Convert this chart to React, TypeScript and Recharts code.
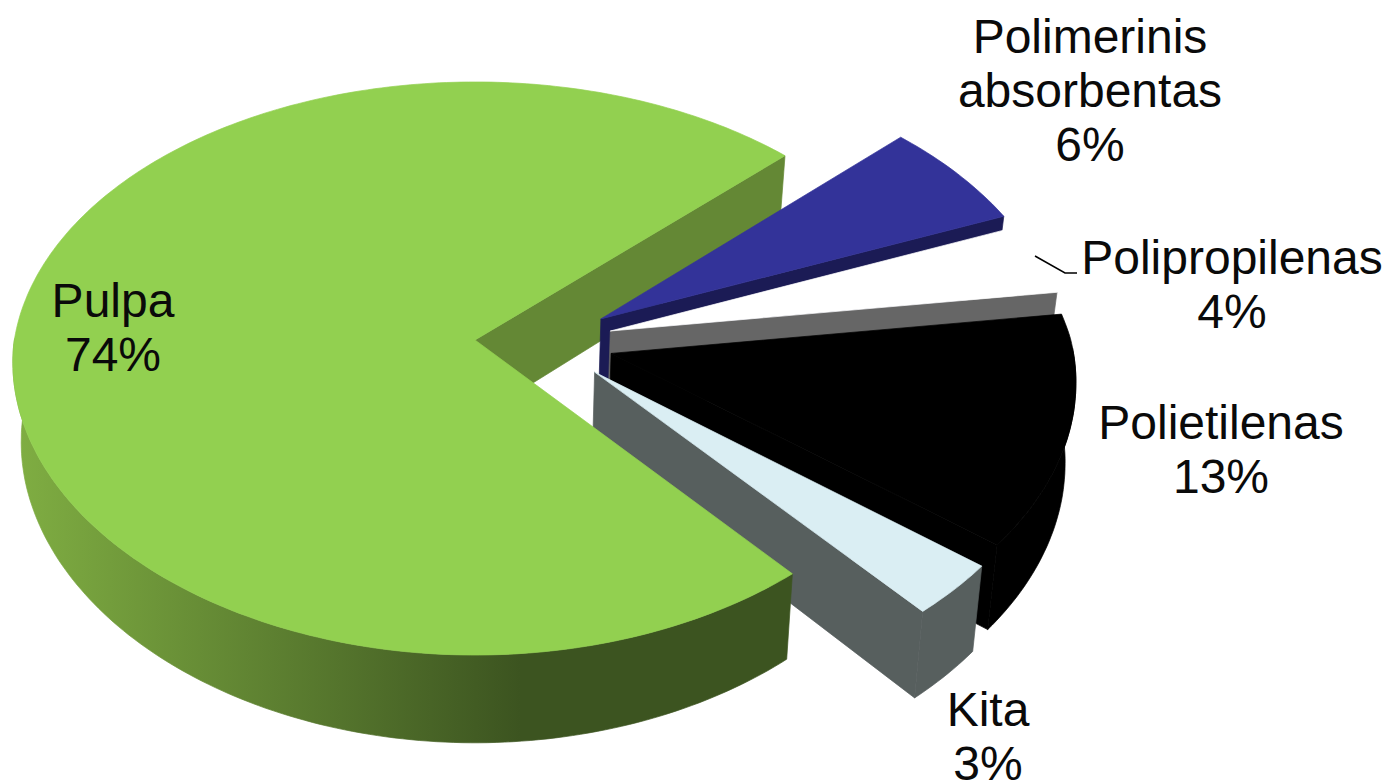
import { Pie, PieChart } from "recharts";

const LABELS = ["Polimerinis absorbentas", "Polipropilenas", "Polietilenas", "Kita", "Pulpa"];
const VALUES = [6, 4, 13, 3, 74];
const TOP_COLORS = ["#333399", "#FFFFFF", "#000000", "#DAEEF3", "#92D050"];
const EDGE_COLORS = ["#1B1B55", "#666666", "#000000", "#575F5E", "#648835"];
const RIM_COLORS = ["#1B1B55", "#FFFFFF", "#000000", "#575F5E", "url(#pulpaRim)"];

const LABEL_LINES = [
  ["Polimerinis", "absorbentas", "6%"],
  ["Polipropilenas", "4%"],
  ["Polietilenas", "13%"],
  ["Kita", "3%"],
  ["Pulpa", "74%"],
];
const LABEL_ANCHORS = [
  { x: 1090, y: 53 },
  { x: 1232, y: 274 },
  { x: 1221, y: 439 },
  { x: 988, y: 726 },
  { x: 113, y: 317 },
];

const WIDTH = 1390;
const HEIGHT = 784;
const CX = 475;
const CY = 340;
const RADIUS = 460.7;
const TILT = 0.6158; // vertical squash of the pie plane
const PERSPECTIVE = 0.0995;
const PERSPECTIVE_X_FRONT = 0.078; // the near half widens a bit less than it drops
const DEPTH = 79; // wall height
const BOTTOM_SCALE = 0.982;
const EXPLODE = 0.15;
const PULPA_MID = 177.2;
const PULPA_INDEX = 4;

const FONT = "'Liberation Sans', Arial, sans-serif";

const rad = (d: number) => (d * Math.PI) / 180;

// plane coords (unit circle) to screen, top or bottom face of the slab
function project(u: number, v: number, bottom = false) {
  const s = 1 / (1 + PERSPECTIVE * v);
  const sx = v < 0 ? 1 / (1 + PERSPECTIVE_X_FRONT * v) : s;
  const x = CX + RADIUS * u * sx;
  const y = CY - RADIUS * TILT * v * s;
  if (!bottom) return [x, y];
  return [CX + (x - CX) * BOTTOM_SCALE, y + DEPTH * s];
}

const toPath = (pts: number[][]) =>
  "M" + pts.map((p) => `${p[0].toFixed(1)},${p[1].toFixed(1)}`).join("L") + "Z";

function Face({ pts, fill }: { pts: number[][]; fill: string }) {
  return <path d={toPath(pts)} fill={fill} stroke={fill} strokeWidth={0.7} />;
}

function sliceGeometry(props: any) {
  const { startAngle, endAngle, midAngle } = props;

  // every slice moves out from the middle of the pie; Pulpa's apex sits at CX,CY
  const ou = EXPLODE * (Math.cos(rad(midAngle)) - Math.cos(rad(PULPA_MID)));
  const ov = EXPLODE * (Math.sin(rad(midAngle)) - Math.sin(rad(PULPA_MID)));

  const angles: number[] = [];
  const steps = Math.ceil(Math.abs(endAngle - startAngle));
  for (let i = 0; i <= steps; i++) {
    angles.push(rad(startAngle + ((endAngle - startAngle) * i) / steps));
  }
  const at = (a: number, bottom = false) => project(ou + Math.cos(a), ov + Math.sin(a), bottom);

  return {
    top: angles.map((a) => at(a)),
    // outer wall only where it faces the viewer
    rimTop: angles.filter((a) => Math.sin(a) <= 0.02).map((a) => at(a)),
    rimLow: angles.filter((a) => Math.sin(a) <= 0.02).map((a) => at(a, true)),
    apexTop: project(ou, ov),
    apexLow: project(ou, ov, true),
    startLow: at(angles[0], true),
    endLow: at(angles[steps], true),
    // slices run clockwise, so only these cut faces turn towards the viewer
    startVisible: Math.cos(rad(startAngle)) < 0,
    endVisible: Math.cos(rad(endAngle)) > 0,
  };
}

function CutFaces({ props }: { props: any }) {
  const g = sliceGeometry(props);
  const fill = EDGE_COLORS[props.index];
  return (
    <g>
      {g.startVisible && <Face pts={[g.apexTop, g.top[0], g.startLow, g.apexLow]} fill={fill} />}
      {g.endVisible && (
        <Face pts={[g.apexTop, g.top[g.top.length - 1], g.endLow, g.apexLow]} fill={fill} />
      )}
    </g>
  );
}

// Pulpa's notch wall sits behind all the other slices, its top face in front of them
function BackWall(props: any) {
  return props.index === PULPA_INDEX ? <CutFaces props={props} /> : <g />;
}

function Slice3D(props: any) {
  const { index } = props;
  const g = sliceGeometry(props);
  return (
    <g>
      {g.rimTop.length > 1 && (
        <Face pts={[...g.rimTop, ...[...g.rimLow].reverse()]} fill={RIM_COLORS[index]} />
      )}
      {index !== PULPA_INDEX && <CutFaces props={props} />}
      <Face pts={[g.apexTop, ...g.top]} fill={TOP_COLORS[index]} />
    </g>
  );
}

function SliceLabel(props: any) {
  const { index } = props;
  const anchor = LABEL_ANCHORS[index];
  return (
    <g>
      {index === 1 && (
        <polyline
          points="1035,256 1065,273 1077,273"
          fill="none"
          stroke="#000000"
          strokeWidth={1.5}
        />
      )}
      <text
        x={anchor.x}
        y={anchor.y}
        textAnchor="middle"
        fontFamily={FONT}
        fontSize={48}
        fill="#0a0a0a"
      >
        {LABEL_LINES[index].map((line, i) => (
          <tspan key={line} x={anchor.x} dy={i === 0 ? 0 : 54}>
            {line}
          </tspan>
        ))}
      </text>
    </g>
  );
}

const data = LABELS.map((name, i) => ({ name, value: VALUES[i] }));

export default function App() {
  return (
    <div style={{ position: "absolute", left: 0, top: 0, width: WIDTH, height: HEIGHT, background: "#fff" }}>
      <PieChart width={WIDTH} height={HEIGHT} margin={{ top: 0, right: 0, bottom: 0, left: 0 }}>
        <defs>
          <linearGradient id="pulpaRim" gradientUnits="userSpaceOnUse" x1="20" y1="0" x2="790" y2="0">
            <stop offset="0%" stopColor="#7FAD42" />
            <stop offset="65%" stopColor="#3C5420" />
            <stop offset="100%" stopColor="#3C5420" />
          </linearGradient>
        </defs>
        <Pie
          data={data}
          dataKey="value"
          cx={CX}
          cy={CY}
          outerRadius={RADIUS}
          startAngle={44}
          endAngle={-316}
          stroke="none"
          isAnimationActive={false}
          shape={BackWall}
          activeShape={BackWall}
          inactiveShape={BackWall}
        />
        <Pie
          data={data}
          dataKey="value"
          nameKey="name"
          cx={CX}
          cy={CY}
          outerRadius={RADIUS}
          startAngle={44}
          endAngle={-316}
          stroke="none"
          isAnimationActive={false}
          shape={Slice3D}
          activeShape={Slice3D}
          inactiveShape={Slice3D}
          label={SliceLabel}
          labelLine={false}
        />
      </PieChart>
    </div>
  );
}
